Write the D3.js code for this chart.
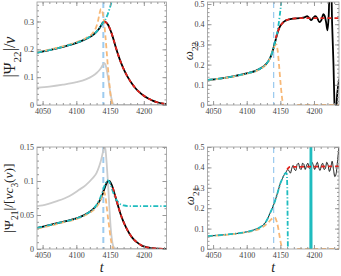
<!DOCTYPE html>
<html lang="en">
<head>
<meta charset="UTF-8">
<title>Amplitude and frequency of the 22 and 21 modes</title>
<script src="https://cdnjs.cloudflare.com/ajax/libs/d3/7.8.5/d3.min.js"></script>
<style>
  body { margin: 0; background: #fff; }
  svg { display: block; }
  .axis text { font-family: "Liberation Serif", "DejaVu Serif", serif; font-size: 8px; fill: #444; }
  .axis line, .axis path { stroke: #999; }
  .title { font-family: "Liberation Serif", "DejaVu Serif", serif; fill: #222; }
</style>
</head>
<body>
<div id="chart"></div>
<script>
// merger time (light blue dashed line)
const tMerger = 4140;
const xTicks = [4050, 4100, 4150, 4200];

// |Psi22|/nu
const amp22NR = [[4042,0.188],[4060,0.197],[4080,0.209],[4100,0.223],[4112,0.235],[4123,0.249],[4129,0.261],[4134,0.275],[4137,0.287],[4139,0.295],[4141.5,0.3],[4144,0.297],[4147,0.288],[4150,0.272],[4153,0.252],[4156,0.228],[4159,0.203],[4162,0.18],[4166,0.153],[4170,0.13],[4174,0.11],[4178,0.093],[4182,0.078],[4187,0.062],[4193,0.047],[4199,0.035],[4206,0.024],[4213,0.016],[4221,0.009],[4229,0.005],[4238,0.002]];
const amp22RD = [[4141.5,0.3],[4144,0.297],[4147,0.288],[4150,0.272],[4153,0.252],[4156,0.228],[4159,0.203],[4162,0.18],[4166,0.153],[4170,0.13],[4174,0.11],[4178,0.093],[4182,0.078],[4187,0.062],[4193,0.047],[4199,0.035],[4206,0.024],[4213,0.016],[4221,0.009],[4229,0.005],[4238,0.002]];
const amp22EOB = [[4042,0.188],[4060,0.197],[4080,0.209],[4100,0.223],[4112,0.235],[4123,0.249],[4129,0.261],[4134,0.275],[4137,0.287],[4140,0.297],[4143,0.307],[4146,0.323],[4149,0.344],[4152,0.369],[4154,0.39]];
const amp22PN = [[4042,0.19],[4060,0.199],[4080,0.211],[4100,0.226],[4114,0.24],[4124,0.258],[4129,0.277],[4132,0.3],[4134.5,0.33],[4136.5,0.345],[4138.5,0.335],[4141,0.3],[4143,0.25],[4145,0.19],[4147,0.13],[4149,0.075],[4151,0.03],[4153,0.005],[4154,0]];
const amp22Gray = [[4042,0.062],[4060,0.066],[4080,0.073],[4100,0.082],[4114,0.092],[4124,0.104],[4130,0.115],[4134,0.125],[4137,0.135],[4139.5,0.145],[4141.5,0.15],[4143.5,0.143],[4145.5,0.12],[4147.5,0.09],[4149.5,0.058],[4151.5,0.03],[4153.5,0.01],[4156,0.001],[4160,0],[4238,0]];

// omega22
const om22NR = [[4042,0.124],[4060,0.131],[4080,0.142],[4100,0.156],[4114,0.17],[4122,0.184],[4128,0.2],[4132,0.216],[4136,0.242],[4139,0.272],[4141,0.297],[4143,0.322],[4145,0.347],[4147,0.369],[4149,0.386],[4152,0.401],[4156,0.414],[4161,0.422],[4169,0.428],[4179,0.43],[4186,0.434],[4190,0.44],[4193,0.43],[4196,0.42],[4199,0.432],[4202,0.44],[4205,0.43],[4208,0.41],[4211,0.42],[4214,0.45],[4216,0.44],[4218,0.41],[4220,0.37],[4222,0.45],[4223.5,0.6],[4225.5,0.6],[4227,0.4],[4229,0.2],[4230.5,0],[4231.5,-0.05],[4233,-0.05],[4234,0.03],[4238,0.13]];
const om22RD = [[4143,0.33],[4145,0.35],[4147,0.37],[4149,0.386],[4152,0.401],[4156,0.414],[4161,0.422],[4169,0.428],[4179,0.43],[4238,0.43]];
const om22EOB = [[4042,0.124],[4060,0.131],[4080,0.142],[4100,0.156],[4114,0.17],[4122,0.184],[4128,0.2],[4132,0.216],[4136,0.242],[4139,0.272],[4141,0.297],[4143,0.322],[4145,0.352],[4147,0.39],[4149,0.44],[4151,0.5],[4152,0.54]];
const om22PN = [[4042,0.124],[4060,0.13],[4080,0.141],[4100,0.155],[4114,0.168],[4122,0.182],[4128,0.198],[4132,0.214],[4136,0.242],[4139,0.272],[4142,0.295],[4144,0.3],[4146,0.27],[4148,0.2],[4150,0.12],[4152,0.05],[4154,0]];
const om22PNTail = [[4175,0],[4238,0]];

// |Psi21|/[nu c3(nu)]
const amp21Gray = [[4042,0.063],[4050,0.064],[4070,0.07],[4090,0.078],[4104,0.087],[4114,0.094],[4124,0.104],[4130,0.112],[4134,0.122],[4137,0.132],[4139.5,0.143],[4141.5,0.15],[4143,0.147],[4145,0.125],[4147,0.095],[4149,0.06],[4151,0.03],[4153,0.012],[4156,0.002],[4160,0],[4238,0]];
const amp21NR = [[4042,0.031],[4060,0.035],[4080,0.04],[4100,0.045],[4114,0.051],[4124,0.058],[4130,0.064],[4134,0.07],[4138,0.078],[4141,0.087],[4144,0.095],[4147,0.1],[4149,0.1],[4151,0.097],[4154,0.09],[4157,0.08],[4161,0.066],[4165,0.053],[4169,0.042],[4174,0.031],[4179,0.022],[4185,0.014],[4191,0.009],[4197,0.005],[4205,0.0025],[4215,0.001],[4238,0]];
const amp21RD = [[4154,0.09],[4157,0.08],[4161,0.066],[4165,0.053],[4169,0.042],[4174,0.031],[4179,0.022],[4185,0.014],[4191,0.009],[4197,0.005],[4205,0.0025],[4215,0.001],[4238,0]];
const amp21EOB = [[4042,0.031],[4060,0.035],[4080,0.04],[4100,0.045],[4114,0.051],[4124,0.058],[4130,0.065],[4134,0.072],[4138,0.082],[4141,0.091],[4144,0.098],[4146,0.101],[4148,0.1],[4151,0.094],[4154,0.085],[4157,0.077],[4161,0.07],[4165,0.066],[4170,0.064],[4179,0.063],[4238,0.063]];
const amp21PN = [[4042,0.03],[4060,0.034],[4080,0.039],[4100,0.044],[4114,0.05],[4124,0.056],[4130,0.062],[4134,0.068],[4137,0.075],[4139,0.081],[4141,0.084],[4143,0.078],[4145,0.062],[4147,0.045],[4149,0.03],[4151,0.015],[4153,0.005],[4155,0]];

// omega21
const om21NR = [[4042,0.063],[4060,0.068],[4080,0.074],[4100,0.084],[4113,0.096],[4121,0.109],[4126,0.122],[4131,0.148],[4135,0.178],[4138,0.2],[4141,0.225],[4144,0.255],[4147,0.288],[4150,0.322],[4153,0.345],[4156,0.365],[4159,0.38],[4161,0.39],[4163,0.382],[4165,0.372],[4167,0.395],[4169,0.41],[4171,0.39],[4173,0.385],[4175,0.415],[4177,0.42],[4179,0.395],[4181,0.39],[4183,0.42],[4185,0.415],[4187,0.39],[4189,0.41],[4191,0.42],[4193,0.395],[4195,0.4],[4197,0.425],[4199,0.41],[4201,0.39],[4203,0.41],[4205,0.425],[4207,0.4],[4209,0.385],[4211,0.41],[4213,0.42],[4215,0.39],[4217,0.395],[4219,0.425],[4221,0.41],[4223,0.38],[4225,0.4],[4227,0.43],[4229,0.39],[4231,0.355],[4233,0.37],[4235,0.43],[4238,0.53]];
const om21RD = [[4160,0.39],[4164,0.402],[4238,0.405]];
const om21EOB = [[4042,0.063],[4060,0.068],[4080,0.074],[4100,0.084],[4113,0.096],[4121,0.109],[4126,0.122],[4131,0.148],[4135,0.178],[4138,0.2],[4141,0.225],[4144,0.255],[4147,0.288],[4150,0.322],[4153,0.345],[4156,0.365],[4158,0.373],[4159.5,0.37],[4160.3,0.3],[4160.8,0.15],[4161.2,0]];
const om21EOBPole = [[4194,0],[4194.3,0.55],[4194.6,-0.05],[4195,0.55],[4195.4,-0.05],[4195.8,0.55],[4196.2,-0.05],[4196.6,0.55],[4197,-0.05]];
const om21PN = [[4042,0.062],[4060,0.067],[4080,0.073],[4100,0.082],[4113,0.092],[4121,0.102],[4126,0.112],[4131,0.127],[4135,0.14],[4138,0.15],[4141,0.155],[4143,0.15],[4145,0.13],[4147,0.1],[4149,0.06],[4151,0.025],[4153,0.005],[4154,0]];
const om21PNTail = [[4175,0],[4238,0]];

const colors = { nr: "#000", rd: "#e3221c", eob: "#1fbcbf", pn: "#f7b877", gray: "#cbcbcb", merger: "#9dcbef" };

const W = 341, H = 276;
const svg = d3.select("#chart").append("svg").attr("width", W).attr("height", H);

const styles = {
  gray: { color: colors.gray, width: 1.8, dash: null },
  nr:   { color: colors.nr, width: 1.8, dash: null },
  nrThin: { color: colors.nr, width: 0.9, dash: null },
  pn:   { color: colors.pn, width: 1.8, dash: "5,3" },
  eob:  { color: colors.eob, width: 1.8, dash: "5,2,1.2,2" },
  pole: { color: colors.eob, width: 1.2, dash: null, linear: true },
  rd:   { color: colors.rd, width: 1.8, dash: "4,3" }
};

function drawPanel(p, idx) {
  const x = d3.scaleLinear().domain(p.xDomain).range([p.left, p.right]);
  const y = d3.scaleLinear().domain(p.yDomain).range([p.bottom, p.top]);

  const clipId = "clip" + idx;
  svg.append("clipPath").attr("id", clipId)
    .append("rect")
    .attr("x", p.left).attr("y", p.top)
    .attr("width", p.right - p.left).attr("height", p.bottom - p.top);

  const g = svg.append("g").attr("clip-path", `url(#${clipId})`);

  // merger line
  g.append("line")
    .attr("x1", x(tMerger)).attr("x2", x(tMerger))
    .attr("y1", p.top).attr("y2", p.bottom)
    .attr("stroke", colors.merger)
    .attr("stroke-width", p.mergerWidth)
    .attr("stroke-dasharray", "6,4");

  p.series.forEach(s => {
    const st = styles[s.style];
    const line = d3.line()
      .x(d => x(d[0])).y(d => y(d[1]))
      .curve(st.linear ? d3.curveLinear : d3.curveMonotoneX);
    g.append("path")
      .datum(s.data)
      .attr("d", line)
      .attr("fill", "none")
      .attr("stroke", st.color)
      .attr("stroke-width", st.width)
      .attr("stroke-dasharray", st.dash)
      .attr("stroke-linejoin", "round");
  });

  // axes: inward ticks, minor ticks, mirrored on top/right
  const xMinor = d3.range(4050, p.xDomain[1], 10).concat(d3.range(4040, p.xDomain[0], -10)).filter(v => v >= p.xDomain[0] && v <= p.xDomain[1]);
  const yMinor = d3.range(0, p.yDomain[1] + 1e-9, p.yMinorStep);

  const addAxis = (axisFn, scale, tr, ticks, size, fmt) => {
    const a = axisFn(scale).tickValues(ticks).tickSize(size).tickSizeOuter(0).tickPadding(3);
    a.tickFormat(fmt ? fmt : "");
    svg.append("g").attr("class", "axis").attr("transform", tr).call(a)
      .call(s => s.select(".domain").remove());
  };

  addAxis(d3.axisBottom, x, `translate(0,${p.bottom})`, xMinor, -2, null);
  addAxis(d3.axisBottom, x, `translate(0,${p.bottom})`, xTicks, -4, d3.format("d"));
  addAxis(d3.axisTop, x, `translate(0,${p.top})`, xMinor, -2, null);
  addAxis(d3.axisTop, x, `translate(0,${p.top})`, xTicks, -4, null);
  addAxis(d3.axisLeft, y, `translate(${p.left},0)`, yMinor, -2, null);
  addAxis(d3.axisLeft, y, `translate(${p.left},0)`, p.yTicks, -4, d3.format("~g"));
  addAxis(d3.axisRight, y, `translate(${p.right},0)`, yMinor, -2, null);
  addAxis(d3.axisRight, y, `translate(${p.right},0)`, p.yTicks, -4, null);

  svg.append("rect")
    .attr("x", p.left).attr("y", p.top)
    .attr("width", p.right - p.left).attr("height", p.bottom - p.top)
    .attr("fill", "none").attr("stroke", "#999").attr("stroke-width", 0.8);

  // y title
  const t = svg.append("text").attr("class", "title")
    .attr("transform", `translate(${p.titleX},${p.titleY}) rotate(-90)`)
    .attr("text-anchor", "middle")
    .attr("font-size", p.titleSize);
  p.title.forEach(part => {
    const ts = t.append("tspan").text(part.s);
    if (part.sub) ts.attr("baseline-shift", "sub").attr("font-size", p.titleSize * 0.7);
    if (part.it) ts.attr("font-style", "italic");
  });

  if (p.xLabel) {
    svg.append("text").attr("class", "title")
      .attr("x", (p.left + p.right) / 2).attr("y", 272)
      .attr("text-anchor", "middle")
      .attr("font-size", 14).attr("font-style", "italic")
      .text("t");
  }
}

const panels = [
  {
    left: 37, right: 166.5, top: 2, bottom: 105,
    xDomain: [4041.7, 4233.6], yDomain: [0, 0.37], yTicks: [0, 0.1, 0.2, 0.3], yMinorStep: 0.02,
    mergerWidth: 2,
    title: [{ s: "|Ψ" }, { s: "22", sub: true }, { s: "|/" }, { s: "ν", it: true }],
    titleX: 15, titleY: 57, titleSize: 16,
    series: [
      { data: amp22Gray, style: "gray" },
      { data: amp22NR, style: "nr" },
      { data: amp22PN, style: "pn" },
      { data: amp22EOB, style: "eob" },
      { data: amp22RD, style: "rd" }
    ]
  },
  {
    left: 207.5, right: 339, top: 2, bottom: 105,
    xDomain: [4041.7, 4237.2], yDomain: [0, 0.51], yTicks: [0, 0.1, 0.2, 0.3, 0.4, 0.5], yMinorStep: 0.02,
    mergerWidth: 1.3,
    title: [{ s: "ω", it: true }, { s: "22", sub: true }],
    titleX: 193, titleY: 51, titleSize: 13,
    series: [
      { data: om22NR, style: "nr" },
      { data: om22PN, style: "pn" },
      { data: om22PNTail, style: "pn" },
      { data: om22EOB, style: "eob" },
      { data: om22RD, style: "rd" }
    ]
  },
  {
    left: 37, right: 166.5, top: 147, bottom: 249,
    xDomain: [4041.7, 4233.6], yDomain: [0, 0.15], yTicks: [0, 0.05, 0.1, 0.15], yMinorStep: 0.01,
    mergerWidth: 2, xLabel: true,
    title: [{ s: "|Ψ" }, { s: "21", sub: true }, { s: "|/[" }, { s: "νc", it: true }, { s: "3", sub: true }, { s: "(" }, { s: "ν", it: true }, { s: ")]" }],
    titleX: 13, titleY: 198, titleSize: 13.5,
    series: [
      { data: amp21Gray, style: "gray" },
      { data: amp21NR, style: "nr" },
      { data: amp21PN, style: "pn" },
      { data: amp21EOB, style: "eob" },
      { data: amp21RD, style: "rd" }
    ]
  },
  {
    left: 207.5, right: 339, top: 147, bottom: 249,
    xDomain: [4041.7, 4237.2], yDomain: [0, 0.5], yTicks: [0, 0.1, 0.2, 0.3, 0.4, 0.5], yMinorStep: 0.02,
    mergerWidth: 1.3, xLabel: true,
    title: [{ s: "ω", it: true }, { s: "21", sub: true }],
    titleX: 194, titleY: 196, titleSize: 13,
    series: [
      { data: om21NR, style: "nrThin" },
      { data: om21PN, style: "pn" },
      { data: om21PNTail, style: "pn" },
      { data: om21EOB, style: "eob" },
      { data: om21EOBPole, style: "pole" },
      { data: om21RD, style: "rd" }
    ]
  }
];

panels.forEach(drawPanel);
</script>
</body>
</html>
